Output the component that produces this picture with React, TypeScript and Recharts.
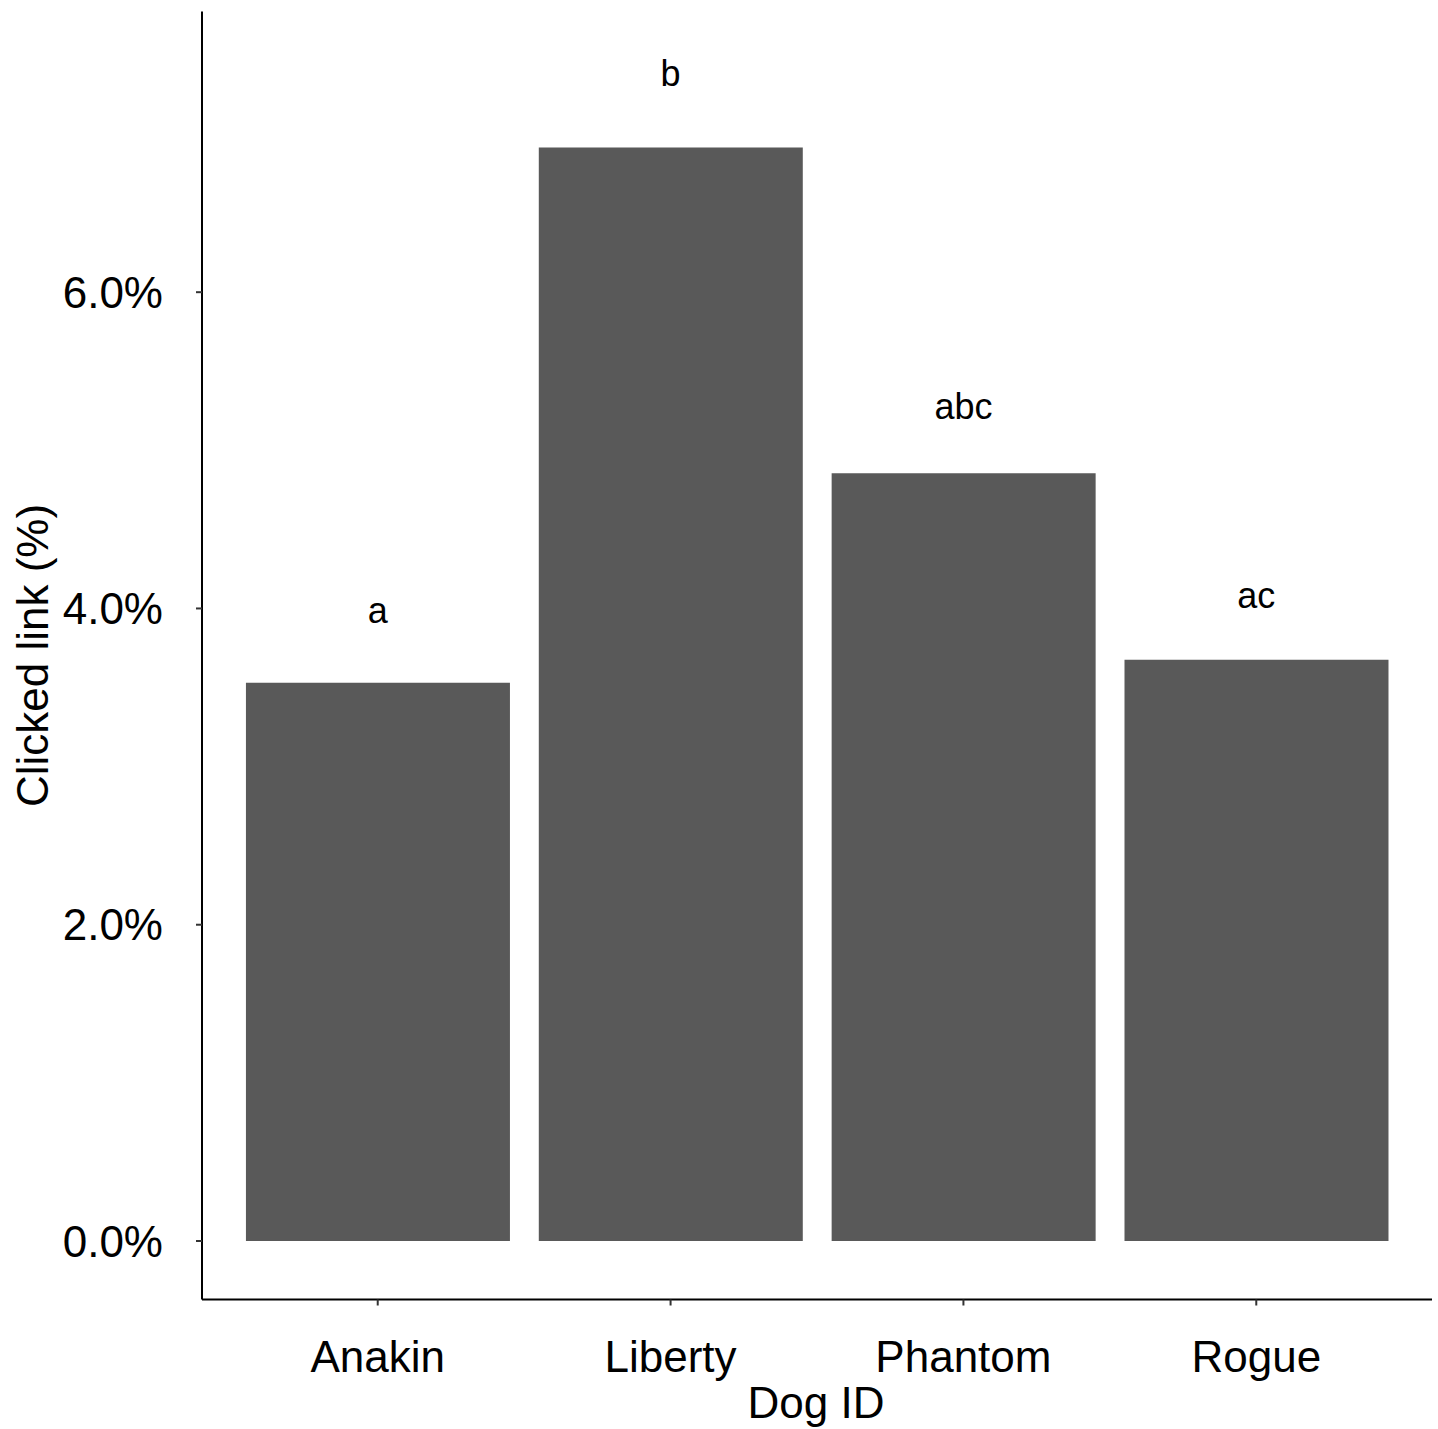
import { ComposedChart, Bar, Scatter, XAxis, YAxis } from 'recharts';

const dogs = ['Anakin', 'Liberty', 'Phantom', 'Rogue'];
const clickedPct = [3.53, 6.915, 4.855, 3.675];
const groupLetters = ['a', 'b', 'abc', 'ac'];
const letterY = [3.99, 7.38, 5.28, 4.085];
const yTicks = [0, 2, 4, 6];

const FONT = '"Liberation Sans", Arial, sans-serif';

const data = dogs.map((dog, i) => ({
  dog,
  value: clickedPct[i],
  letterY: letterY[i],
  letter: groupLetters[i],
}));

// letter above each bar, drawn at the scatter point
const LetterShape = (props: any) => {
  const { cx, cy, payload } = props;
  return (
    <text
      x={cx}
      y={cy}
      textAnchor="middle"
      dominantBaseline="central"
      fontSize={36}
      fontFamily={FONT}
      fill="#000"
    >
      {payload.letter}
    </text>
  );
};

export default function App() {
  return (
    <div style={{ position: 'absolute', left: 0, top: 0, width: 1438, height: 1429, background: '#fff' }}>
      <ComposedChart
        width={1438}
        height={1429}
        data={data}
        margin={{ top: 11.5, right: 6, left: 0, bottom: 0 }}
        barCategoryGap="5%"
      >
        <XAxis
          dataKey="dog"
          type="category"
          height={129.5}
          padding={{ left: 29.3, right: 29.3 }}
          axisLine={{ stroke: '#000', strokeWidth: 2 }}
          tickLine={{ stroke: '#333', strokeWidth: 2 }}
          tickSize={6}
          tickMargin={35}
          tick={{ fill: '#000', fontSize: 44, fontFamily: FONT }}
          label={{
            content: () => (
              <text x={816} y={1418} textAnchor="middle" fontSize={44} fontFamily={FONT} fill="#000">
                Dog ID
              </text>
            ),
          }}
        />
        <YAxis
          type="number"
          width={202}
          domain={[-0.37, 7.775]}
          allowDataOverflow
          ticks={yTicks}
          tickFormatter={(v: number) => `${v.toFixed(1)}%`}
          axisLine={{ stroke: '#000', strokeWidth: 2 }}
          tickLine={{ stroke: '#333', strokeWidth: 2 }}
          tickSize={6}
          tickMargin={33}
          tick={{ fill: '#000', fontSize: 44, fontFamily: FONT }}
          label={{
            content: () => (
              <text
                x={48}
                y={655.5}
                transform="rotate(-90, 48, 655.5)"
                textAnchor="middle"
                fontSize={44}
                fontFamily={FONT}
                fill="#000"
              >
                Clicked link (%)
              </text>
            ),
          }}
        />
        <Bar dataKey="value" fill="#595959" isAnimationActive={false} />
        <Scatter dataKey="letterY" shape={LetterShape} isAnimationActive={false} />
      </ComposedChart>
    </div>
  );
}
